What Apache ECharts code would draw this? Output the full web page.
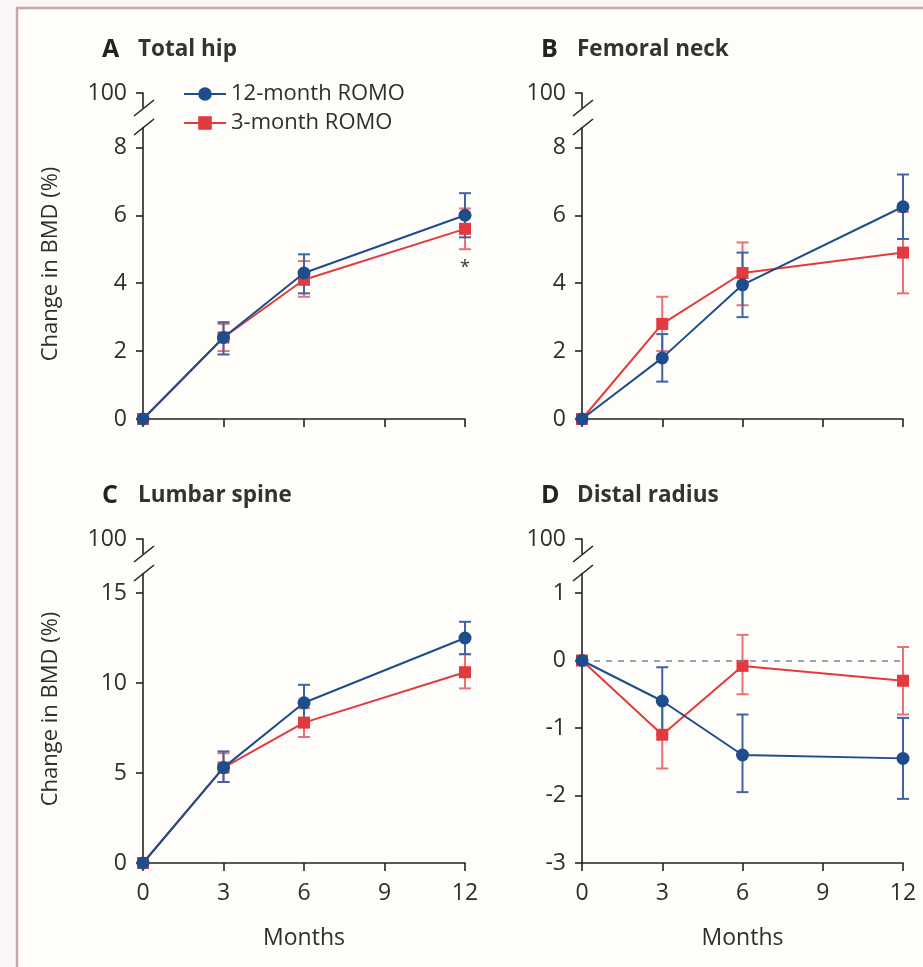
<!DOCTYPE html>
<html>
<head>
<meta charset="utf-8">
<script src="https://cdn.jsdelivr.net/npm/echarts@6/dist/echarts.min.js"></script>
<style>
  body { margin: 0; background: #fdf8f8; }
  #main { width: 923px; height: 967px; }
</style>
</head>
<body>
<div id="main"></div>
<script>
// months on the x axis
var months = [0, 3, 6, 12]
var breakLabel = '100'

// A total hip
var hip12 = [0, 2.4, 4.3, 6.0]
var hip12Lo = [0, 1.9, 3.7, 5.35]
var hip12Hi = [0, 2.85, 4.85, 6.65]
var hip3 = [0, 2.4, 4.1, 5.6]
var hip3Lo = [0, 2.0, 3.6, 5.0]
var hip3Hi = [0, 2.8, 4.65, 6.2]
var hipTicks = [0, 2, 4, 6, 8]

// B femoral neck
var neck12 = [0, 1.8, 3.95, 6.25]
var neck12Lo = [0, 1.1, 3.0, 5.3]
var neck12Hi = [0, 2.5, 4.9, 7.2]
var neck3 = [0, 2.8, 4.3, 4.9]
var neck3Lo = [0, 2.0, 3.35, 3.7]
var neck3Hi = [0, 3.6, 5.2, 6.1]
var neckTicks = [0, 2, 4, 6, 8]

// C lumbar spine
var spine12 = [0, 5.3, 8.9, 12.5]
var spine12Lo = [0, 4.5, 8.0, 11.6]
var spine12Hi = [0, 6.2, 9.9, 13.4]
var spine3 = [0, 5.3, 7.8, 10.6]
var spine3Lo = [0, 4.5, 7.0, 9.7]
var spine3Hi = [0, 6.1, 8.6, 11.6]
var spineTicks = [0, 5, 10, 15]

// D distal radius
var radius12 = [0, -0.6, -1.4, -1.45]
var radius12Lo = [0, -1.1, -1.95, -2.05]
var radius12Hi = [0, -0.1, -0.8, -0.85]
var radius3 = [0, -1.1, -0.08, -0.3]
var radius3Lo = [0, -1.6, -0.5, -0.8]
var radius3Hi = [0, -0.6, 0.38, 0.2]
var radiusTicks = [-3, -2, -1, 0, 1]

var BLUE = '#1d4d8a'
var RED = '#e23b3f'
var FONT = 'Open Sans'
var TXT = '#2e2e2e'

var panels = [
  { letter: 'A', name: 'Total hip', grid: { left: 143, right: 458, top: 93, bottom: 548 }, min: 0, top: 9.6, ticks: hipTicks,
    b: [hip12, hip12Lo, hip12Hi], r: [hip3, hip3Lo, hip3Hi], bottomRow: false },
  { letter: 'B', name: 'Femoral neck', grid: { left: 582, right: 20, top: 93, bottom: 548 }, min: 0, top: 9.6, ticks: neckTicks,
    b: [neck12, neck12Lo, neck12Hi], r: [neck3, neck3Lo, neck3Hi], bottomRow: false },
  { letter: 'C', name: 'Lumbar spine', grid: { left: 143, right: 458, top: 539, bottom: 104 }, min: 0, top: 18, ticks: spineTicks,
    b: [spine12, spine12Lo, spine12Hi], r: [spine3, spine3Lo, spine3Hi], bottomRow: true },
  { letter: 'D', name: 'Distal radius', grid: { left: 582, right: 20, top: 539, bottom: 104 }, min: -3, top: 1.8, ticks: radiusTicks,
    b: [radius12, radius12Lo, radius12Hi], r: [radius3, radius3Lo, radius3Hi], bottomRow: true }
]

function errRender (params, api) {
  var x = api.value(0)
  var lo = api.coord([x, api.value(1)])
  var hi = api.coord([x, api.value(2)])
  var c = api.visual('color')
  var w = 6
  var st = { stroke: c, lineWidth: 2 }
  return {
    type: 'group',
    children: [
      { type: 'line', shape: { x1: lo[0], y1: lo[1], x2: hi[0], y2: hi[1] }, style: st },
      { type: 'line', shape: { x1: lo[0] - w, y1: lo[1], x2: lo[0] + w, y2: lo[1] }, style: st },
      { type: 'line', shape: { x1: hi[0] - w, y1: hi[1], x2: hi[0] + w, y2: hi[1] }, style: st }
    ]
  }
}

function pts (vals) {
  return months.map(function (m, i) { return [m, vals[i]] })
}
function bars (lo, hi) {
  return months.map(function (m, i) { return [m, lo[i], hi[i]] })
    .filter(function (d) { return d[1] !== d[2] })
}

var grids = []
var xAxes = []
var yAxes = []
var series = []
var titles = []

panels.forEach(function (p, i) {
  grids.push(p.grid)
  titles.push({
    text: '{l|' + p.letter + '}{t|' + p.name + '}',
    left: p.grid.left - 46,
    top: p.grid.top - 61,
    textStyle: {
      rich: {
        l: { fontFamily: FONT, fontSize: 25, fontWeight: 'bold', color: '#222', width: 36 },
        t: { fontFamily: FONT, fontSize: 22.5, fontWeight: 'bold', color: '#333' }
      }
    }
  })
  xAxes.push({
    gridIndex: i,
    type: 'value',
    min: 0,
    max: 12,
    interval: 3,
    position: 'bottom',
    axisLine: { onZero: false, lineStyle: { color: '#222', width: 1.6 } },
    axisTick: { length: 8, lineStyle: { color: '#222', width: 1.6 } },
    axisLabel: { show: p.bottomRow, margin: 19, fontFamily: FONT, fontSize: 23, color: TXT },
    splitLine: { show: false },
    name: p.bottomRow ? 'Months' : '',
    nameLocation: 'middle',
    nameGap: 64,
    nameTextStyle: { fontFamily: FONT, fontSize: 23, color: TXT }
  })
  var yVals = p.ticks.concat([p.top])
  yAxes.push({
    gridIndex: i,
    type: 'value',
    min: p.min,
    max: p.top,
    axisLine: { show: true, lineStyle: { color: '#222', width: 1.6 } },
    axisTick: { show: true, length: 7, customValues: yVals, lineStyle: { color: '#222', width: 1.6 } },
    axisLabel: {
      customValues: yVals,
      margin: 16,
      fontFamily: FONT,
      fontSize: 23,
      color: TXT,
      formatter: function (v) { return Math.abs(v - p.top) < 1e-6 ? breakLabel : String(v) }
    },
    splitLine: { show: false }
  })

  var red = {
    type: 'line', name: '3-month ROMO', xAxisIndex: i, yAxisIndex: i, z: 4,
    symbol: 'rect', symbolSize: 12, color: RED,
    lineStyle: { width: 2, color: RED }, itemStyle: { color: RED },
    data: pts(p.r[0])
  }
  var blue = {
    type: 'line', name: '12-month ROMO', xAxisIndex: i, yAxisIndex: i, z: 5,
    symbol: 'circle', symbolSize: 13, color: BLUE,
    lineStyle: { width: 2, color: BLUE }, itemStyle: { color: BLUE },
    data: pts(p.b[0])
  }
  if (p.letter === 'A') {
    red.markPoint = {
      symbol: 'circle', symbolSize: 1, itemStyle: { color: 'rgba(0,0,0,0)' },
      label: { show: true, formatter: '*', fontSize: 18, color: '#333', fontFamily: FONT },
      data: [{ coord: [12, 4.45] }]
    }
  }
  if (p.letter === 'D') {
    blue.markLine = {
      silent: true, symbol: 'none', label: { show: false },
      lineStyle: { type: [6, 6], color: '#7385a8', width: 1.6 },
      data: [{ yAxis: 0 }]
    }
  }
  series.push(blue, red)
  series.push({
    type: 'custom', name: '3-month ROMO', xAxisIndex: i, yAxisIndex: i, z: 2,
    itemStyle: { color: '#ea7075' }, renderItem: errRender, data: bars(p.r[1], p.r[2])
  })
  series.push({
    type: 'custom', name: '12-month ROMO', xAxisIndex: i, yAxisIndex: i, z: 3,
    itemStyle: { color: '#3e65a0' }, renderItem: errRender, data: bars(p.b[1], p.b[2])
  })
})

var chart = echarts.init(document.getElementById('main'))
chart.setOption({
  backgroundColor: '#fefdfa',
  animation: false,
  title: titles,
  legend: {
    left: 178,
    top: 78,
    orient: 'vertical',
    itemWidth: 42,
    itemHeight: 17,
    itemGap: 7,
    textStyle: { fontFamily: FONT, fontSize: 22, color: TXT },
    data: ['12-month ROMO', '3-month ROMO']
  },
  grid: grids,
  xAxis: xAxes,
  yAxis: yAxes,
  series: series
})

// axis break marks, frame and y axis titles
var gfx = [
  { type: 'rect', shape: { x: 0, y: 0, width: 923, height: 8 }, style: { fill: '#fdf6f6' }, z: 0 },
  { type: 'rect', shape: { x: 0, y: 0, width: 17, height: 967 }, style: { fill: '#fdf6f6' }, z: 0 },
  { type: 'polyline', shape: { points: [[17, 967], [17, 8], [923, 8]] }, style: { stroke: '#c6a6ac', lineWidth: 2.5, fill: null }, z: 10 }
]
panels.forEach(function (p, i) {
  var t = chart.convertToPixel({ gridIndex: i }, [0, p.top])
  var x = t[0]
  var y = t[1]
  gfx.push({ type: 'rect', shape: { x: x - 3, y: y + 15, width: 6, height: 19 }, style: { fill: '#fefdfa' }, z: 20 })
  gfx.push({ type: 'line', shape: { x1: x - 9, y1: y + 23, x2: x + 11, y2: y + 7 }, style: { stroke: '#222', lineWidth: 1.6 }, z: 21 })
  gfx.push({ type: 'line', shape: { x1: x - 9, y1: y + 42, x2: x + 11, y2: y + 26 }, style: { stroke: '#222', lineWidth: 1.6 }, z: 21 })
  if (p.letter === 'A' || p.letter === 'C') {
    var b = chart.convertToPixel({ gridIndex: i }, [0, p.min])
    gfx.push({
      type: 'text', x: 51, y: (y + b[1]) / 2 + 8, rotation: Math.PI / 2,
      style: { text: 'Change in BMD (%)', fontFamily: FONT, fontSize: 22, fill: TXT, align: 'center', verticalAlign: 'middle' },
      z: 20
    })
  }
})
chart.setOption({ graphic: gfx })
</script>
</body>
</html>
